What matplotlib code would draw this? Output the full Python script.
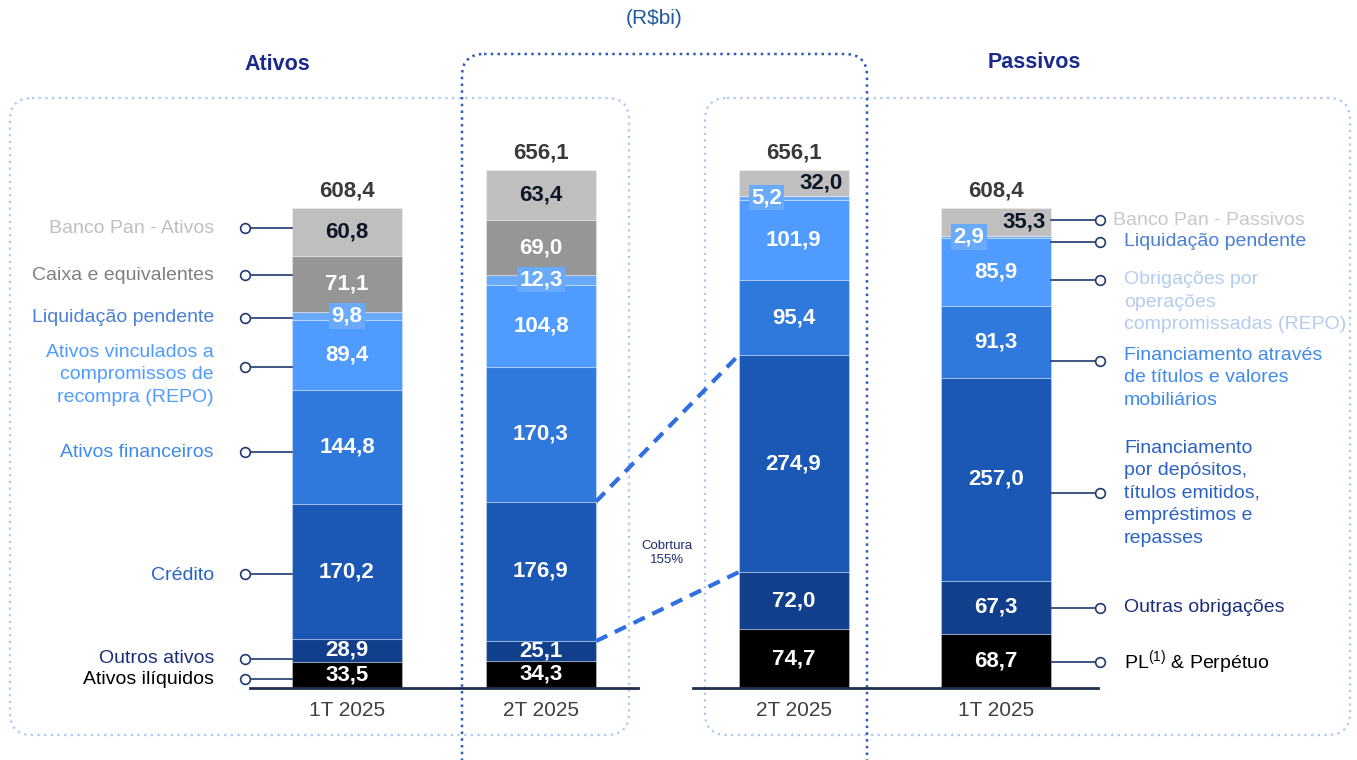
import matplotlib
matplotlib.use("Agg")
import matplotlib.pyplot as plt
import numpy as np
from matplotlib.patches import FancyBboxPatch

plt.rcParams.update({
    "font.family": ["Liberation Sans", "DejaVu Sans"],
    "mathtext.fontset": "custom",
    "mathtext.rm": "Liberation Sans",
    "mathtext.it": "Liberation Sans",
})

# ── data (R$ bi), bottom -> top ─────────────────────────────────────
categories = ["1T 2025", "2T 2025", "2T 2025", "1T 2025"]
totals = [608.4, 656.1, 656.1, 608.4]

ativos_1t = [33.5, 28.9, 170.2, 144.8, 89.4, 9.8, 71.1, 60.8]
ativos_2t = [34.3, 25.1, 176.9, 170.3, 104.8, 12.3, 69.0, 63.4]
passivos_2t = [74.7, 72.0, 274.9, 95.4, 101.9, 5.2, 32.0]
passivos_1t = [68.7, 67.3, 257.0, 91.3, 85.9, 2.9, 35.3]

ativo_labels = [
    "Ativos ilíquidos", "Outros ativos", "Crédito", "Ativos financeiros",
    "Ativos vinculados a\ncompromissos de\nrecompra (REPO)",
    "Liquidação pendente", "Caixa e equivalentes", "Banco Pan - Ativos",
]
passivo_labels = [
    "PL$^{(1)}$ & Perpétuo", "Outras obrigações",
    "Financiamento\npor depósitos,\ntítulos emitidos,\nempréstimos e\nrepasses",
    "Financiamento através\nde títulos e valores\nmobiliários",
    "Obrigações por\noperações\ncompromissadas (REPO)",
    "Liquidação pendente", "Banco Pan - Passivos",
]
cobertura = "Cobrtura\n155%"

# ── styling ─────────────────────────────────────────────────────────
ATIVO_COLORS = ["#000000", "#123F8C", "#1B58B5", "#2F78DC", "#4F9BFF",
                "#6AAAFA", "#969696", "#BFBFBF"]
PASSIVO_COLORS = ["#000000", "#123F8C", "#1B58B5", "#2F78DC", "#4F9BFF",
                  "#6AAAFA", "#BFBFBF"]
ATIVO_TXT = ["#000000", "#1A2F7A", "#2563C9", "#3F8AEB", "#4F9BFF",
             "#4A7FD8", "#808080", "#BFBFBF"]
PASSIVO_TXT = ["#000000", "#1A2F7A", "#2A62C4", "#3F8AEB", "#B4CCF2",
               "#4A7FD8", "#C8C8C8"]
LINE_C = "#1F3A6E"

# label anchor heights (value units)
ativo_line_y = [11.4, 36.8, 144.5, 299, 407, 469, 523, 583]
ativo_text_y = [11.4, 36.8, 143, 299, 397, 469, 523, 583]
passivo_line_y = [33, 101.4, 247, 414.4, 517, 565, 593]
passivo_text_y = [33, 101.4, 247, 393, 489, 566, 593]

X = [347, 541, 793.5, 996]
W = 110
S = 0.789          # pixels per R$ bi
BASE = 688         # baseline pixel row

fig = plt.figure(figsize=(13.57, 7.6), dpi=100)

# decoration layer in pixel coordinates
deco = fig.add_axes([0, 0, 1, 1])
deco.set_xlim(0, 1357)
deco.set_ylim(760, 0)
deco.axis("off")

for (x0, y0, x1, y1, col, lw, ls) in [
    (10, 98, 629, 735, "#A9C9F2", 1.6, (0, (1, 2))),
    (705, 98, 1350, 735, "#A9C9F2", 1.6, (0, (1, 2))),
    (462, 54, 867, 800, "#2D5BB5", 1.8, (0, (1, 1.7))),
]:
    deco.add_patch(FancyBboxPatch((x0, y0), x1 - x0, y1 - y0,
                                  boxstyle="round,pad=0,rounding_size=22",
                                  fill=False, ec=col, lw=lw, ls=ls))

deco.text(277, 65, "Ativos", ha="center", va="center", fontsize=15.5,
          fontweight="bold", color="#1A2A8C")
deco.text(1034, 63, "Passivos", ha="center", va="center", fontsize=15.5,
          fontweight="bold", color="#1A2A8C")
deco.text(654, 18, "(R$bi)", ha="center", va="center", fontsize=15,
          color="#1F5A9A")

# data layer: x in pixels, y in R$ bi
ax = fig.add_axes([0, 0, 1, 1])
ax.patch.set_alpha(0)
ax.set_xlim(0, 1357)
ax.set_ylim((BASE - 760) / S, BASE / S)
ax.axis("off")

series = [ativos_1t, ativos_2t, passivos_2t, passivos_1t]
colors = [ATIVO_COLORS, ATIVO_COLORS, PASSIVO_COLORS, PASSIVO_COLORS]

for i, (x, vals, cols) in enumerate(zip(X, series, colors)):
    cum = np.concatenate([[0], np.cumsum(vals)])
    ax.bar(x, vals, bottom=cum[:-1], width=W, color=cols,
           edgecolor=(1, 1, 1, 0.3), linewidth=0.8, zorder=2)
    n = len(vals)
    for j, v in enumerate(vals):
        yc = cum[j] + v / 2
        txt = f"{v:.1f}".replace(".", ",")
        is_top = j == n - 1
        is_liq = j == n - 2 if i >= 2 else j == 5
        tx = x
        kw = dict(ha="center", va="center", fontsize=16, fontweight="bold",
                  color="white", zorder=4)
        if is_top:
            kw["color"] = "#0D1526"
            if i >= 2:
                tx = x + 28
        if is_liq:
            kw["bbox"] = dict(boxstyle="square,pad=0.1", fc="#6AAAFA", ec="none")
            if i >= 2:
                tx = x - 27
        ax.text(tx, yc, txt, **kw)
    ax.text(x, totals[i] + 21.5, f"{totals[i]:.1f}".replace(".", ","),
            ha="center", va="center", fontsize=16, fontweight="bold",
            color="#3A3A3A")
    ax.text(x, -28, categories[i], ha="center", va="center", fontsize=15,
            color="#404040")

# baselines
ax.plot([250, 638], [0, 0], color="#1F2F50", lw=2, zorder=3)
ax.plot([693, 1098], [0, 0], color="#1F2F50", lw=2, zorder=3)

# left labels
left_edge = X[0] - W / 2
for lab, ly, ty, c in zip(ativo_labels, ativo_line_y, ativo_text_y, ATIVO_TXT):
    ax.plot([245, left_edge], [ly, ly], color=LINE_C, lw=1.2, zorder=3)
    ax.plot(245, ly, "o", mfc="white", mec=LINE_C, ms=7, mew=1.2, zorder=3)
    ax.text(214, ty, lab, ha="right", va="center", fontsize=14, color=c,
            linespacing=1.42)

# right labels
right_edge = X[3] + W / 2
for k, (lab, ly, ty, c) in enumerate(zip(passivo_labels, passivo_line_y,
                                         passivo_text_y, PASSIVO_TXT)):
    ax.plot([right_edge, 1100], [ly, ly], color=LINE_C, lw=1.2, zorder=3)
    ax.plot(1100, ly, "o", mfc="white", mec=LINE_C, ms=7, mew=1.2, zorder=3)
    tx = 1113 if k == len(passivo_labels) - 1 else 1124
    ax.text(tx, ty, lab, ha="left", va="center", fontsize=14, color=c,
            linespacing=1.42)

# coverage connectors
ca = np.cumsum(ativos_2t)
cp = np.cumsum(passivos_2t)
xa = X[1] + W / 2
xp = X[2] - W / 2
for ya, yp in [(ca[2], cp[2]), (ca[1], cp[1])]:
    ax.plot([xa, xp], [ya, yp], color="#2F6FE0", lw=3, ls=(0, (3, 2)), zorder=3)
ax.text(667, 171, cobertura, ha="center", va="center", fontsize=9.5,
        color="#1F2F6F", linespacing=1.3)

fig.savefig("out.png", dpi=100, facecolor="white")
